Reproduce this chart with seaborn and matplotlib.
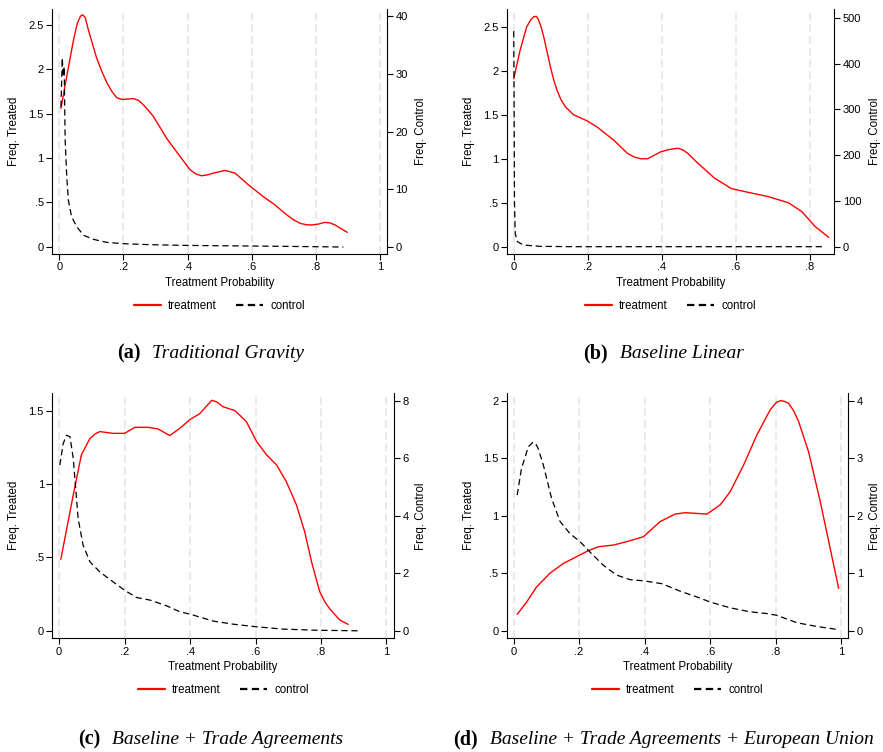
import matplotlib
matplotlib.use("Agg")
import matplotlib.pyplot as plt
import seaborn as sns
from matplotlib.lines import Line2D

# ---------------- data ----------------
# (a) Traditional Gravity
a_treat_x = [0.005, 0.023, 0.044, 0.056, 0.066, 0.073, 0.081, 0.09, 0.103, 0.116, 0.132, 0.148, 0.164,
             0.179, 0.195, 0.21, 0.231, 0.247, 0.262, 0.277, 0.293,
             0.335, 0.376, 0.407, 0.426, 0.444, 0.462, 0.48, 0.517, 0.548, 0.589, 0.636, 0.673, 0.709,
             0.73, 0.751, 0.77, 0.787, 0.808, 0.828, 0.845, 0.86, 0.898]
a_treat_y = [1.56, 1.92, 2.33, 2.52, 2.6, 2.615, 2.58, 2.45, 2.29, 2.13, 1.98, 1.85, 1.75,
             1.68, 1.66, 1.665, 1.67, 1.65, 1.6, 1.54, 1.47,
             1.22, 1.02, 0.87, 0.82, 0.8, 0.81, 0.83, 0.86, 0.83, 0.7, 0.565, 0.47, 0.36,
             0.305, 0.264, 0.248, 0.245, 0.255, 0.275, 0.268, 0.245, 0.162]
a_ctrl_x = [0.005, 0.009, 0.012, 0.015, 0.018, 0.023, 0.028, 0.038, 0.054, 0.075, 0.106, 0.148,
            0.2, 0.283, 0.387, 0.49, 0.595, 0.7, 0.8, 0.886]
a_ctrl_y = [24.3, 32.8, 29.6, 31.3, 18.6, 12.2, 8.1, 5.2, 3.5, 2.0, 1.28, 0.75,
            0.52, 0.35, 0.23, 0.17, 0.12, 0.06, 0.0, -0.06]

# (b) Baseline Linear
b_treat_x = [0.0, 0.017, 0.035, 0.046, 0.054, 0.061, 0.067, 0.074, 0.081, 0.09, 0.099, 0.108, 0.117,
             0.128, 0.14, 0.162, 0.199, 0.226, 0.271,
             0.308, 0.326, 0.344, 0.362, 0.38, 0.398, 0.42, 0.444, 0.458, 0.471, 0.498, 0.543, 0.589,
             0.643, 0.688, 0.743, 0.779, 0.815, 0.852]
b_treat_y = [1.91, 2.23, 2.5, 2.58, 2.615, 2.62, 2.58, 2.5, 2.39, 2.22, 2.05, 1.9, 1.78,
             1.67, 1.59, 1.5, 1.43, 1.36, 1.21,
             1.06, 1.02, 1.0, 1.0, 1.04, 1.08, 1.105, 1.12, 1.1, 1.06, 0.95, 0.78, 0.66,
             0.61, 0.57, 0.5, 0.4, 0.23, 0.106]
b_ctrl_x = [0.0, 0.001, 0.002, 0.004, 0.01, 0.026, 0.072, 0.162, 0.843]
b_ctrl_y = [471, 319, 101, 29, 11, 3.6, 0.7, 0.0, 0.0]

# (c) Baseline + Trade Agreements
c_treat_x = [0.005, 0.043, 0.068, 0.094, 0.109, 0.124, 0.165, 0.2, 0.231, 0.272, 0.302, 0.338, 0.369, 0.4,
             0.43, 0.466, 0.481, 0.5, 0.537, 0.572, 0.603, 0.633, 0.664, 0.694, 0.725, 0.75,
             0.771, 0.796, 0.812, 0.827, 0.857, 0.883]
c_treat_y = [0.486, 0.925, 1.2, 1.31, 1.34, 1.357, 1.345, 1.345, 1.386, 1.386, 1.375, 1.33, 1.38, 1.44,
             1.48, 1.57, 1.56, 1.527, 1.5, 1.425, 1.29, 1.2, 1.13, 1.016, 0.857, 0.675,
             0.47, 0.266, 0.195, 0.148, 0.073, 0.043]
c_ctrl_x = [0.002, 0.012, 0.022, 0.033, 0.043, 0.058, 0.073, 0.094, 0.124, 0.165, 0.2, 0.236, 0.277, 0.328,
            0.369, 0.4, 0.47, 0.532, 0.603, 0.684, 0.786, 0.918]
c_ctrl_y = [5.76, 6.5, 6.8, 6.75, 6.0, 3.9, 2.98, 2.4, 2.05, 1.7, 1.41, 1.16, 1.07, 0.87,
            0.66, 0.58, 0.34, 0.23, 0.14, 0.06, 0.02, 0.0]

# (d) Baseline + Trade Agreements + European Union
d_treat_x = [0.011, 0.04, 0.07, 0.111, 0.152, 0.192, 0.228, 0.259, 0.305, 0.345, 0.396, 0.447, 0.493,
             0.523, 0.59, 0.63, 0.661, 0.702, 0.742, 0.783, 0.802, 0.814, 0.826, 0.839, 0.855, 0.87,
             0.9, 0.936, 0.966, 0.992]
d_treat_y = [0.142, 0.25, 0.38, 0.5, 0.585, 0.643, 0.696, 0.73, 0.745, 0.774, 0.817, 0.948, 1.014,
             1.026, 1.014, 1.093, 1.209, 1.44, 1.7, 1.92, 1.985, 2.0, 1.995, 1.977, 1.91, 1.817,
             1.557, 1.12, 0.716, 0.368]
d_ctrl_x = [0.011, 0.024, 0.045, 0.058, 0.066, 0.075, 0.091, 0.116, 0.142, 0.172, 0.203, 0.233, 0.274, 0.314,
            0.355, 0.396, 0.452, 0.508, 0.559, 0.6, 0.661, 0.722, 0.773, 0.803, 0.865, 0.926, 0.992]
d_ctrl_y = [2.36, 2.82, 3.2, 3.275, 3.27, 3.17, 2.88, 2.3, 1.9, 1.69, 1.55, 1.37, 1.14, 0.97,
            0.89, 0.87, 0.82, 0.69, 0.59, 0.5, 0.4, 0.33, 0.30, 0.27, 0.14, 0.075, 0.02]

captions_letter = ["(a)", "(b)", "(c)", "(d)"]
captions_text = ["Traditional Gravity", "Baseline Linear", "Baseline + Trade Agreements",
                 "Baseline + Trade Agreements + European Union"]
legend_labels = ["treatment", "control"]
xlabel = "Treatment Probability"
ylabel_left = "Freq. Treated"
ylabel_right = "Freq. Control"

# ---------------- style ----------------
sns.set_theme(style="ticks")
plt.rcParams["font.family"] = ["Liberation Sans", "DejaVu Sans"]
plt.rcParams["text.color"] = "black"

W, H = 883, 752
fig = plt.figure(figsize=(W / 100, H / 100), dpi=100)


def fmt(v):
    s = "%g" % v
    if s.startswith("0."):
        s = s[1:]
    if s.startswith("-0."):
        s = "-" + s[2:]
    return s


panels = [
    dict(box=(52, 9, 387, 254), tx=a_treat_x, ty=a_treat_y, cx=a_ctrl_x, cy=a_ctrl_y,
         xlim=(-0.023, 1.022), xticks=[0, .2, .4, .6, .8, 1],
         ylim=(-0.082, 2.68), yticks=[0, .5, 1, 1.5, 2, 2.5],
         rlim=(-1.27, 41.3), rticks=[0, 10, 20, 30, 40], rpad=28),
    dict(box=(506.7, 9.3, 834.3, 254), tx=b_treat_x, ty=b_treat_y, cx=b_ctrl_x, cy=b_ctrl_y,
         xlim=(-0.019, 0.867), xticks=[0, .2, .4, .6, .8],
         ylim=(-0.083, 2.70), yticks=[0, .5, 1, 1.5, 2, 2.5],
         rlim=(-16, 518.7), rticks=[0, 100, 200, 300, 400, 500], rpad=35),
    dict(box=(52.3, 393.3, 394, 638.3), tx=c_treat_x, ty=c_treat_y, cx=c_ctrl_x, cy=c_ctrl_y,
         xlim=(-0.021, 1.023), xticks=[0, .2, .4, .6, .8, 1],
         ylim=(-0.052, 1.618), yticks=[0, .5, 1, 1.5],
         rlim=(-0.26, 8.26), rticks=[0, 2, 4, 6, 8], rpad=21),
    dict(box=(506.7, 393.3, 848.3, 638.3), tx=d_treat_x, ty=d_treat_y, cx=d_ctrl_x, cy=d_ctrl_y,
         xlim=(-0.021, 1.0214), xticks=[0, .2, .4, .6, .8, 1],
         ylim=(-0.066, 2.064), yticks=[0, .5, 1, 1.5, 2],
         rlim=(-0.13, 4.13), rticks=[0, 1, 2, 3, 4], rpad=21),
]

cap_pos = [(117, 353), (583, 353), (78, 739), (453, 739)]

tick_fs = 8
lab_fs = 8.3

for i, p in enumerate(panels):
    l, t, r, b = p["box"]
    ax = fig.add_axes([l / W, 1 - b / H, (r - l) / W, (b - t) / H])
    ax.set_facecolor("white")
    ax2 = ax.twinx()

    # grid lines at x ticks
    for xv in p["xticks"]:
        ax.axvline(xv, color="#e9e9e9", lw=1.4, ls=(0, (4, 2)), zorder=0)

    sns.lineplot(x=p["tx"], y=p["ty"], ax=ax, color="red", lw=1.0, sort=False, zorder=3)
    sns.lineplot(x=p["cx"], y=p["cy"], ax=ax2, color="black", lw=0.9, sort=False,
                 linestyle=(0, (5, 3)), zorder=3)

    ax.set_xlim(*p["xlim"])
    ax.set_ylim(*p["ylim"])
    ax2.set_ylim(*p["rlim"])
    ax.set_xticks(p["xticks"])
    ax.set_xticklabels([fmt(v) for v in p["xticks"]])
    ax.set_yticks(p["yticks"])
    ax.set_yticklabels([fmt(v) for v in p["yticks"]])
    ax2.set_yticks(p["rticks"])
    ax2.set_yticklabels([fmt(v) for v in p["rticks"]])

    for a in (ax, ax2):
        a.spines["top"].set_visible(False)
        for s in ("left", "right", "bottom"):
            a.spines[s].set_color("black")
            a.spines[s].set_linewidth(0.8)
        a.tick_params(direction="out", length=4, width=0.8, labelsize=tick_fs, pad=2,
                      colors="black")
    ax2.spines["left"].set_visible(False)
    ax2.spines["bottom"].set_visible(False)
    ax.spines["right"].set_visible(False)

    wpx = r - l
    hpx = b - t
    ax.set_xlabel(xlabel, fontsize=lab_fs, color="black")
    ax.xaxis.set_label_coords(0.5, -23 / hpx)
    ax.set_ylabel(ylabel_left, fontsize=lab_fs, color="black")
    ax.yaxis.set_label_coords(-32 / wpx, 0.5)
    ax2.set_ylabel(ylabel_right, fontsize=lab_fs, color="black", rotation=90)
    ax2.yaxis.set_label_coords(1 + p["rpad"] / wpx, 0.5)

    handles = [Line2D([0], [0], color="red", lw=1.6),
               Line2D([0], [0], color="black", lw=1.6, ls=(0, (3.3, 2)))]
    leg = ax.legend(handles, legend_labels, loc="center", bbox_to_anchor=(0.5, -52 / hpx),
                    ncol=2, frameon=False, fontsize=lab_fs, handlelength=2.35,
                    handletextpad=0.6, columnspacing=1.7)
    for txt in leg.get_texts():
        txt.set_color("black")

    cx0, cy0 = cap_pos[i]
    t1 = fig.text(cx0 / W, 1 - cy0 / H, captions_letter[i], fontsize=14.5, fontweight="bold",
                  family=["Liberation Serif", "DejaVu Serif"], va="center", ha="left",
                  color="black")
    fig.canvas.draw()
    bb = t1.get_window_extent()
    fig.text((bb.x1 + 12) / W, 1 - cy0 / H, captions_text[i], fontsize=14, style="italic",
             family=["Liberation Serif", "DejaVu Serif"], va="center", ha="left",
             color="black")

fig.savefig("out.png", dpi=100, facecolor="white")
